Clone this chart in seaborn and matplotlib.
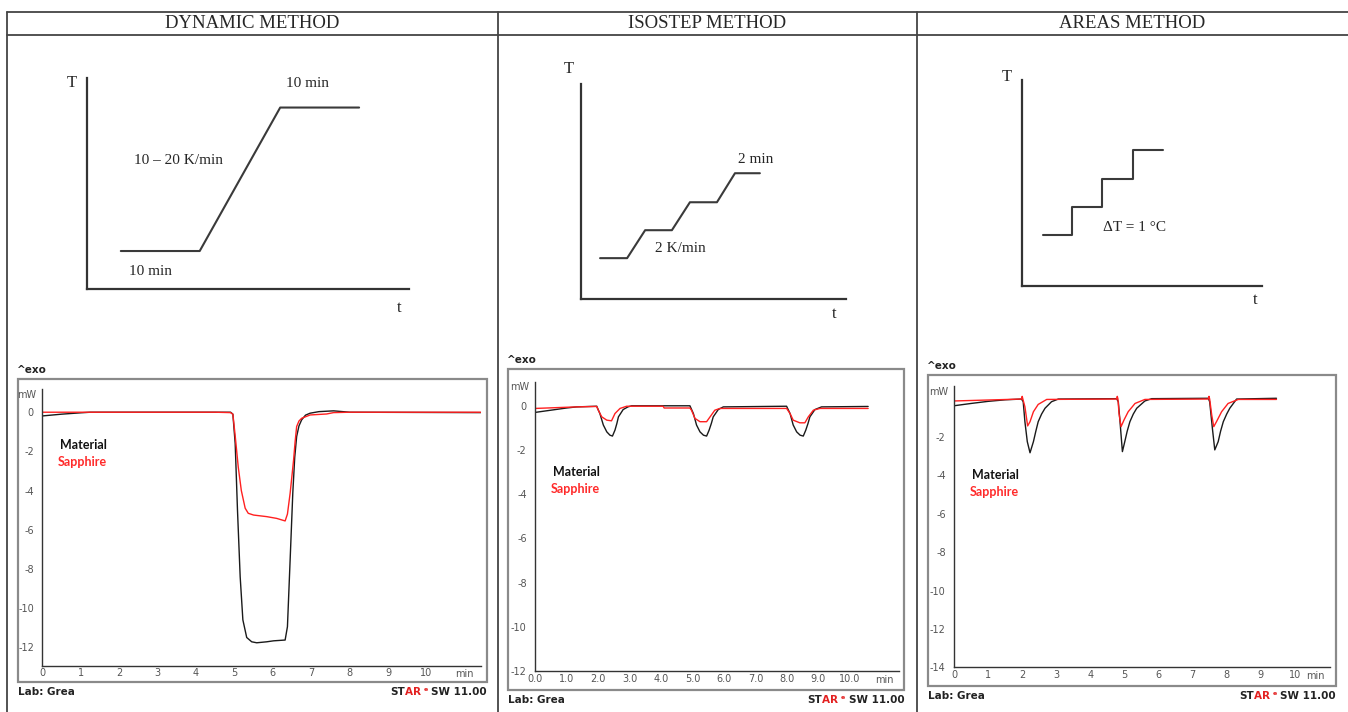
import pandas as pd
import matplotlib.pyplot as plt
import matplotlib.patches as mpatches
from matplotlib.ticker import MultipleLocator, FormatStrFormatter
import seaborn as sns

W, H = 1348, 712

# ---- column headers
methods = ["DYNAMIC METHOD", "ISOSTEP METHOD", "AREAS METHOD"]

# ---- temperature programs (schematic, arbitrary units)
dyn_prog_t = [1.05, 3.5, 6.0, 8.45]
dyn_prog_T = [1.8, 1.8, 8.6, 8.6]
iso_prog_t = [0.72, 1.74, 2.42, 3.43, 4.11, 5.13, 5.81, 6.75]
iso_prog_T = [1.9, 1.9, 3.2, 3.2, 4.5, 4.5, 5.85, 5.85]
area_prog_t = [0.875, 2.08, 2.08, 3.33, 3.33, 4.63, 4.63, 5.88]
area_prog_T = [2.48, 2.48, 3.83, 3.83, 5.19, 5.19, 6.6, 6.6]

# ---- DSC curves (t in min, heat flow in mW)
dyn_mat_t = [0, 0.5, 1.0, 1.25, 4.9, 4.96, 5.02, 5.08, 5.15, 5.22, 5.32, 5.45, 5.58, 5.84, 6.02, 6.32,
             6.38, 6.45, 6.52, 6.57, 6.62, 6.68, 6.75, 6.85, 6.97, 7.2, 7.58, 8.0, 11.41]
dyn_mat_mw = [-0.19, -0.1, -0.03, 0, 0, -0.1, -1.6, -5.0, -8.4, -10.6, -11.5, -11.72, -11.77, -11.72, -11.67, -11.63,
              -10.95, -7.55, -4.1, -2.3, -1.24, -0.7, -0.39, -0.15, -0.05, 0.03, 0.07, 0.0, -0.02]
dyn_sap_t = [0, 4.5, 4.9, 4.96, 5.02, 5.1, 5.18, 5.28, 5.36, 5.5, 5.84, 6.1, 6.32, 6.38, 6.45, 6.5,
             6.54, 6.58, 6.62, 6.68, 6.75, 6.97, 7.4, 7.58, 8.0, 11.41]
dyn_sap_mw = [0, 0, -0.02, -0.1, -1.2, -2.8, -4.0, -4.9, -5.16, -5.25, -5.33, -5.42, -5.55, -5.2, -4.14, -3.2,
              -2.44, -1.5, -0.73, -0.45, -0.31, -0.14, -0.09, -0.02, 0, 0]

iso_mat_t = [0, 0.5, 1.0, 1.32, 1.96, 2.06, 2.17, 2.28, 2.38, 2.46, 2.54, 2.6, 2.65, 2.8, 2.95, 3.07,
             4.92, 5.03, 5.13, 5.24, 5.35, 5.45, 5.53, 5.6, 5.66, 5.82, 5.98,
             7.99, 8.1, 8.2, 8.31, 8.42, 8.52, 8.6, 8.67, 8.73, 8.89, 9.1, 10.58]
iso_mat_mw = [-0.3, -0.2, -0.1, -0.05, -0.02, -0.35, -0.87, -1.18, -1.33, -1.37, -1.1, -0.8, -0.5, -0.17, -0.05, 0,
              0, -0.35, -0.87, -1.18, -1.33, -1.37, -1.1, -0.8, -0.5, -0.17, -0.05,
              -0.02, -0.35, -0.87, -1.18, -1.33, -1.37, -1.1, -0.8, -0.5, -0.17, -0.05, -0.03]
iso_sap_t = [0, 1.32, 1.96, 2.01, 2.12, 2.28, 2.43, 2.54, 2.7, 2.91, 4.07, 4.1, 4.92, 4.97, 5.08, 5.24,
             5.45, 5.56, 5.71, 5.87, 7.99, 8.1, 8.2, 8.41, 8.57, 8.68, 8.84, 9.05, 10.58]
iso_sap_mw = [-0.12, -0.05, -0.03, -0.2, -0.5, -0.65, -0.68, -0.35, -0.12, -0.02, -0.02, -0.1, -0.1, -0.2, -0.57, -0.72,
              -0.72, -0.5, -0.2, -0.12, -0.12, -0.35, -0.65, -0.77, -0.77, -0.5, -0.2, -0.12, -0.12]

area_mat_t = [0, 0.5, 1.0, 1.5, 1.98, 2.03, 2.08, 2.15, 2.23, 2.33, 2.4, 2.47, 2.57, 2.67, 2.86, 3.06,
              4.77, 4.82, 4.87, 4.94, 5.01, 5.08, 5.16, 5.26, 5.36, 5.6, 5.8,
              7.46, 7.5, 7.58, 7.65, 7.75, 7.82, 7.9, 8.0, 8.09, 8.29, 9.46]
area_mat_mw = [-0.37, -0.25, -0.14, -0.06, -0.02, -0.16, -1.2, -2.24, -2.82, -2.24, -1.7, -1.2, -0.8, -0.5, -0.16, -0.02,
               0, -0.16, -1.2, -2.76, -2.24, -1.7, -1.2, -0.8, -0.5, -0.12, 0,
               0.02, -0.16, -1.55, -2.67, -2.24, -1.7, -1.2, -0.8, -0.5, -0.02, 0.02]
area_sap_t = [0, 1.0, 1.98, 2.0, 2.02, 2.08, 2.16, 2.23, 2.33, 2.47, 2.72,
              4.77, 4.79, 4.81, 4.84, 4.9, 4.99, 5.11, 5.31, 5.6,
              7.46, 7.48, 7.5, 7.56, 7.62, 7.7, 7.85, 8.04, 8.34, 9.46]
area_sap_mw = [-0.12, -0.07, -0.02, 0.12, -0.02, -0.42, -1.42, -1.2, -0.68, -0.3, -0.04,
               -0.02, 0.12, -0.02, -0.76, -1.46, -1.1, -0.68, -0.25, -0.04,
               -0.02, 0.12, -0.02, -0.85, -1.46, -1.2, -0.68, -0.25, -0.04, -0.04]

sns.set_style("white")
plt.rcParams['font.family'] = ['DejaVu Sans']
plt.rcParams['axes.unicode_minus'] = False

fig = plt.figure(figsize=(W / 100, H / 100), dpi=100)


def px_rect(x0, y0, x1, y1):
    return [x0 / W, 1 - y1 / H, (x1 - x0) / W, (y1 - y0) / H]


# background axes in pixel coordinates for the table
bg = fig.add_axes([0, 0, 1, 1])
bg.set_xlim(0, W)
bg.set_ylim(H, 0)
bg.axis("off")
line_kw = dict(color="#444444", lw=1.3)
bg.plot([7, W], [12, 12], **line_kw)
bg.plot([7, W], [35, 35], **line_kw)
for xv in [7, 498, 917]:
    bg.plot([xv, xv], [12, H], **line_kw)
for name, xc in zip(methods, [252.5, 707.5, 1132.5]):
    bg.text(xc, 24, name, ha="center", va="center", fontsize=13.5, family="Liberation Serif")

# ---- schematic temperature programs
serif = "Liberation Serif"
schem = [
    (px_rect(87, 78, 409, 289), dyn_prog_t, dyn_prog_T, (-0.47, 9.76), (9.69, -0.9),
     [(1.96, 0.85, "10 min"), (2.83, 6.07, "10 – 20 K/min"), (6.86, 9.76, "10 min")]),
    (px_rect(581, 84, 846, 299), iso_prog_t, iso_prog_T, (-0.45, 10.7), (9.55, -0.7),
     [(3.74, 2.37, "2 K/min"), (6.6, 6.47, "2 min")]),
    (px_rect(1022, 80, 1262, 286), area_prog_t, area_prog_T, (-0.62, 10.15), (9.7, -0.68),
     [(4.67, 2.86, "ΔT = 1 °C")]),
]
for rect, pt, pT, tlab, xlab, notes in schem:
    ax = fig.add_axes(rect)
    ax.set_facecolor("none")
    sns.lineplot(x=pt, y=pT, sort=False, estimator=None, color="#3a3a3a", lw=1.5, ax=ax)
    ax.set_xlim(0, 10)
    ax.set_ylim(0, 10)
    ax.set_xticks([])
    ax.set_yticks([])
    for s in ["top", "right"]:
        ax.spines[s].set_visible(False)
    for s in ["left", "bottom"]:
        ax.spines[s].set_color("#333333")
        ax.spines[s].set_linewidth(1.6)
    ax.text(tlab[0], tlab[1], "T", ha="center", va="center", fontsize=12, family=serif, clip_on=False)
    ax.text(xlab[0], xlab[1], "t", ha="center", va="center", fontsize=12, family=serif, clip_on=False)
    for x, y, s in notes:
        ax.text(x, y, s, ha="center", va="center", fontsize=11, family=serif)

# ---- DSC curves
panels = [
    dict(frame=(18.3, 379, 487, 681.7), rect=px_rect(42.3, 389.3, 480.7, 665.7), xmax=11.41, ylim=(-12.94, 1.17),
         mat=(dyn_mat_t, dyn_mat_mw), sap=(dyn_sap_t, dyn_sap_mw), fmt="%d", label0=True, txt=(60, 445)),
    dict(frame=(508.3, 369, 904.3, 690), rect=px_rect(535, 381.7, 899, 671), xmax=11.56, ylim=(-12, 1.09),
         mat=(iso_mat_t, iso_mat_mw), sap=(iso_sap_t, iso_sap_mw), fmt="%.1f", label0=True, txt=(553, 472)),
    dict(frame=(928.3, 375, 1336, 686), rect=px_rect(954, 386, 1330, 667.3), xmax=11.03, ylim=(-14, 0.66),
         mat=(area_mat_t, area_mat_mw), sap=(area_sap_t, area_sap_mw), fmt="%d", label0=False, txt=(972, 475)),
]

dark = "#222222"
red = "#e32020"
for p in panels:
    x0, y0, x1, y1 = p["frame"]
    bg.add_patch(mpatches.Rectangle((x0, y0), x1 - x0, y1 - y0, fill=False, ec="#8a8a8a", lw=1.6))
    bg.text(x0 - 1, y0 - 9, "^exo", ha="left", va="center", fontsize=7.5, weight="bold", color=dark)
    bg.text(x0, y1 + 10, "Lab: Grea", ha="left", va="center", fontsize=7.5, weight="bold", color=dark)
    # STARe SW 11.00 logo, chained right to left
    sw = bg.text(x1, y1 + 10, "SW 11.00", ha="right", va="center", fontsize=7.5, weight="bold", color=dark)
    e = bg.annotate("e", xy=(0, 0.75), xycoords=sw, xytext=(-2.5, 0), textcoords="offset points",
                    ha="right", va="center", fontsize=4.5, weight="bold", color=red)
    r = bg.annotate("R", xy=(0, 0.5), xycoords=sw, xytext=(-7.5, 0), textcoords="offset points",
                    ha="right", va="center", fontsize=7.5, weight="bold", color=red)
    a = bg.annotate("A", xy=(0, 0.5), xycoords=r, ha="right", va="center", fontsize=7.5,
                    weight="bold", color=red)
    bg.annotate("ST", xy=(0, 0.5), xycoords=a, ha="right", va="center", fontsize=7.5,
                weight="bold", color=dark)
    tx, ty = p["txt"]
    bg.text(tx, ty, "Material", ha="left", va="center", fontsize=9, weight="bold", family="Lato", color="#111111")
    bg.text(tx - 2, ty + 17, "Sapphire", ha="left", va="center", fontsize=9, weight="bold", family="Lato",
            color="#ff2a2a")

    ax = fig.add_axes(p["rect"])
    ax.set_facecolor("none")
    df = pd.concat([
        pd.DataFrame({"t": p["mat"][0], "mW": p["mat"][1], "sample": "Material"}),
        pd.DataFrame({"t": p["sap"][0], "mW": p["sap"][1], "sample": "Sapphire"}),
    ])
    sns.lineplot(data=df, x="t", y="mW", hue="sample", palette={"Material": "#1a1a1a", "Sapphire": "#ff2020"},
                 sort=False, estimator=None, lw=1.0, legend=False, ax=ax)
    ax.set_xlim(0, p["xmax"])
    ax.set_ylim(*p["ylim"])
    ax.set_xlabel("")
    ax.set_ylabel("")
    for s in ["top", "right"]:
        ax.spines[s].set_visible(False)
    for s in ["left", "bottom"]:
        ax.spines[s].set_color("#333333")
        ax.spines[s].set_linewidth(1.0)
    ax.xaxis.set_minor_locator(MultipleLocator(0.2))
    ax.xaxis.set_major_formatter(FormatStrFormatter(p["fmt"]))
    ax.set_xticks(list(range(0, 11)))
    ax.yaxis.set_minor_locator(MultipleLocator(1))
    yt = [v for v in range(-14, 1, 2) if v >= p["ylim"][0]]
    ax.set_yticks(yt)
    ax.set_yticklabels([str(v) if (v != 0 or p["label0"]) else "" for v in yt])
    ax.tick_params(axis="x", which="major", direction="in", length=4, width=0.8, color="#333333",
                   labelsize=7, labelcolor="#555555", pad=2)
    ax.tick_params(axis="x", which="minor", direction="in", length=2.5, width=0.8, color="#333333")
    ax.tick_params(axis="y", which="major", direction="out", length=4, width=0.8, color="#333333",
                   labelsize=7, labelcolor="#555555", pad=2)
    ax.tick_params(axis="y", which="minor", direction="out", length=3, width=0.8, color="#333333")
    ax.text(0.985, -0.03, "min", transform=ax.transAxes, ha="right", va="center", fontsize=7, color="#555555")
    ax.annotate("mW", xy=(0, 1), xycoords="axes fraction", xytext=(-4, -4), textcoords="offset points",
                ha="right", va="center", fontsize=7, color="#555555")

fig.savefig("out.png", dpi=100)
